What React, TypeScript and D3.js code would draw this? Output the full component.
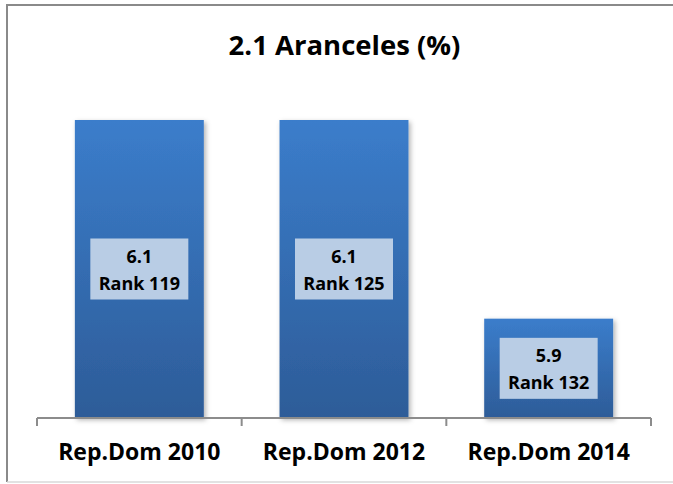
import React from "react";
import * as d3 from "d3";

const categories = ["Rep.Dom 2010", "Rep.Dom 2012", "Rep.Dom 2014"];
const values = [6.1, 6.1, 5.9];
const ranks = ["Rank 119", "Rank 125", "Rank 132"];
const title = "2.1 Aranceles (%)";
const yDomain = [5.8, 6.1];

const W = 673;
const H = 484;
const FONT = "'Open Sans', 'Noto Sans', sans-serif";

export default function App() {
  const x = d3.scaleBand<string>().domain(categories).range([37, 651]).padding(0);
  const y = d3.scaleLinear().domain(yDomain).range([418, 120]);
  const bw = x.bandwidth() * 0.63;
  const boxW = 98;
  const boxH = 61;
  const y0 = y(yDomain[0]);
  const ticks = categories.map((c) => x(c) as number).concat([x.range()[1]]);

  return (
    <svg
      width={W}
      height={H}
      style={{ position: "absolute", left: 0, top: 0, background: "#fff" }}
      fontFamily={FONT}
    >
      <defs>
        <linearGradient id="barGrad" x1="0" y1="0" x2="0" y2="1">
          <stop offset="0%" stopColor="#3B7DCB" />
          <stop offset="100%" stopColor="#2D5C98" />
        </linearGradient>
        <filter id="shadow" x="-10%" y="-10%" width="125%" height="125%">
          <feDropShadow dx="2" dy="2" stdDeviation="2.5" floodColor="#000" floodOpacity="0.3" />
        </filter>
      </defs>
      {/* frame */}
      <line x1={7} y1={5} x2={W} y2={5} stroke="#8a8a8a" strokeWidth={2} />
      <line x1={7} y1={4} x2={7} y2={482} stroke="#8a8a8a" strokeWidth={2} />
      <line x1={7} y1={482} x2={W} y2={482} stroke="#d9d9d9" strokeWidth={1.5} />

      <text x={344.5} y={55} textAnchor="middle" fontSize={27.5} fontWeight={700} fill="#000">
        {title}
      </text>

      {categories.map((c, i) => {
        const cx = (x(c) as number) + x.bandwidth() / 2;
        const top = y(values[i]);
        const h = y0 - top;
        const cy = top + h / 2;
        return (
          <g key={c}>
            <rect
              x={cx - bw / 2}
              y={top}
              width={bw}
              height={h}
              fill="url(#barGrad)"
              filter="url(#shadow)"
            />
            <rect x={cx - boxW / 2} y={cy - boxH / 2} width={boxW} height={boxH} fill="#B9CDE5" />
            <text x={cx} y={cy - 6} textAnchor="middle" fontSize={18} fontWeight={700} fill="#000">
              {d3.format(".1f")(values[i])}
            </text>
            <text x={cx} y={cy + 21} textAnchor="middle" fontSize={18} fontWeight={700} fill="#000">
              {ranks[i]}
            </text>
            <text x={cx} y={460} textAnchor="middle" fontSize={23} fontWeight={700} fill="#000">
              {c}
            </text>
          </g>
        );
      })}

      {/* axis */}
      <line x1={x.range()[0]} y1={y0} x2={x.range()[1]} y2={y0} stroke="#8c8c8c" strokeWidth={2} />
      {ticks.map((t, i) => (
        <line key={i} x1={t} y1={y0} x2={t} y2={y0 + 8} stroke="#8c8c8c" strokeWidth={2} />
      ))}
    </svg>
  );
}
